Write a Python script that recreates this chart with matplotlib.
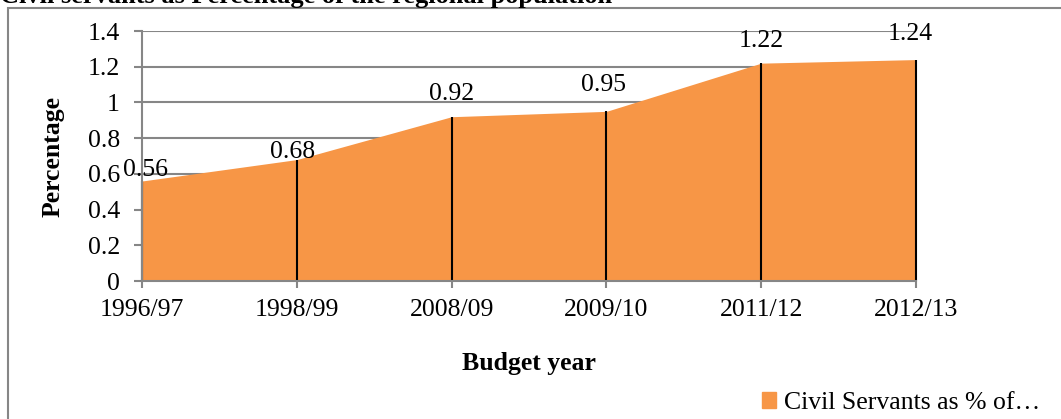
import matplotlib
matplotlib.use('Agg')
import matplotlib.pyplot as pl
from matplotlib.patches import Rectangle, Patch

years = ['1996/97', '1998/99', '2008/09', '2009/10', '2011/12', '2012/13']
share = [0.56, 0.68, 0.92, 0.95, 1.22, 1.24]
yticks = [0, 0.2, 0.4, 0.6, 0.8, 1, 1.2, 1.4]
ytick_labels = ['0', '0.2', '0.4', '0.6', '0.8', '1', '1.2', '1.4']

pl.rcParams['font.family'] = ['Liberation Serif', 'DejaVu Serif']
pl.rcParams['font.size'] = 18.5

W, H = 1061, 419
fig = pl.figure(figsize=(W / 100, H / 100), dpi=100)
ax = fig.add_axes([142 / W, 1 - 281 / H, 774 / W, 250 / H])

grey = '#868686'
orange = '#F79646'
x = list(range(len(years)))

# outer chart frame (cropped on right and bottom)
fig.patches.append(Rectangle((8 / W, -0.2), 1.2, 1.2 - 8 / H,
                             transform=fig.transFigure, fill=False,
                             edgecolor=grey, lw=1.5))
fig.text(0.0, 1 - 3 / H, 'Civil servants as Percentage of the regional population',
         ha='left', va='baseline', fontweight='bold', fontsize=19)

for t in yticks[1:]:
    ax.axhline(t, color=grey, lw=1.5, zorder=1)
ax.fill_between(x, share, 0, color=orange, lw=0, zorder=2)
ax.vlines(x, 0, share, color='black', lw=1.5, zorder=3, clip_on=False)

offsets = [(4, 11), (-4, 8), (0, 23), (-3, 26), (0, 22), (-6, 26)]
for xi, v, off in zip(x, share, offsets):
    ax.annotate(f'{v:g}', (xi, v), xytext=off, textcoords='offset pixels',
                ha='center', va='center', zorder=4)

ax.set_xlim(0, len(years) - 1)
ax.set_ylim(0, 1.4)
ax.set_xticks(x)
ax.set_xticklabels(years)
ax.set_yticks(yticks)
ax.set_yticklabels(ytick_labels)
for s in ['top', 'right']:
    ax.spines[s].set_visible(False)
for s in ['left', 'bottom']:
    ax.spines[s].set_color(grey)
    ax.spines[s].set_linewidth(1.5)
    ax.spines[s].set_zorder(5)
ax.tick_params(axis='y', length=6, width=1.5, color=grey, pad=10)
ax.tick_params(axis='x', length=5, width=1.5, color=grey, pad=8)

ax.set_ylabel('Percentage', fontweight='bold')
ax.yaxis.set_label_coords(-0.0995, 0.5)
ax.set_xlabel('Budget year', fontweight='bold')
ax.xaxis.set_label_coords((529 - 142) / 774, (281 - 352) / 250)

fig.legend(handles=[Patch(color=orange, label='Civil Servants as % of…')],
           loc='center left', bbox_to_anchor=(752 / W, 1 - 403 / H),
           frameon=False, handlelength=0.55, handleheight=0.55,
           handletextpad=0.3, borderaxespad=0)

fig.savefig('out.png', dpi=100)
